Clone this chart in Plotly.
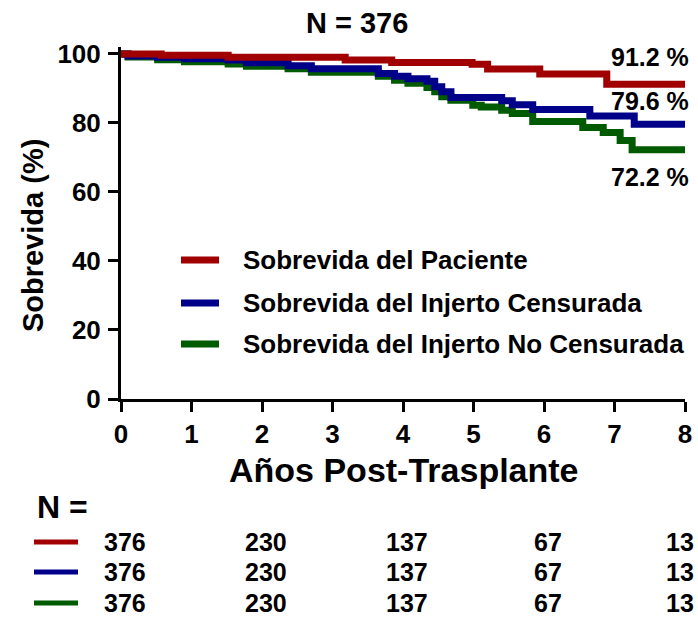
import plotly.graph_objects as go

# ---- data ----
pac_t = [0, 0.57, 1.52, 3.18, 3.84, 4.98, 5.2, 5.94, 6.89, 8.0]
pac_s = [100, 99.6, 99.0, 98.2, 97.5, 97.0, 95.6, 94.2, 91.2, 91.2]

cen_t = [0, 0.1, 0.52, 0.9, 1.52, 1.78, 2.37, 2.70, 3.65, 3.88, 4.07, 4.34, 4.45,
         4.55, 4.68, 5.40, 5.55, 5.84, 6.65, 7.28, 8.0]
cen_s = [100, 99.4, 99.0, 98.6, 98.2, 97.4, 96.6, 95.7, 94.3, 93.5, 92.8, 92.1, 90.5,
         89.0, 87.4, 86.4, 85.3, 83.9, 82.0, 79.6, 79.6]

nocen_t = [0, 0.1, 0.52, 0.9, 1.52, 1.78, 2.37, 2.70, 3.65, 3.88, 4.07, 4.34, 4.45,
           4.55, 4.68, 4.99, 5.11, 5.40, 5.55, 5.84, 6.55, 6.84, 7.08, 7.25, 8.0]
nocen_s = [100, 99.1, 98.3, 97.7, 97.1, 96.4, 95.7, 94.7, 93.5, 92.4, 91.5, 90.3, 89.0,
           87.6, 86.6, 85.1, 84.6, 83.7, 82.7, 80.4, 78.7, 77.2, 74.9, 72.2, 72.2]

series_names = ["Sobrevida del Paciente", "Sobrevida del Injerto Censurada",
                "Sobrevida del Injerto No Censurada"]
series_colors = ["#A00000", "#000088", "#005A00"]
final_labels = ["91.2 %", "79.6 %", "72.2 %"]

n_times = [0, 2, 4, 6, 8]
n_at_risk = [[376, 230, 137, 67, 13],
             [376, 230, 137, 67, 13],
             [376, 230, 137, 67, 13]]

# ---- layout geometry (pixels) ----
W, H = 698, 617
L, R, T, B = 121, 13, 47, 218
PW, PH = W - L - R, H - T - B
FONT = "Liberation Sans, Arial, sans-serif"


def px(x):
    return (x - L) / PW


def py(y):
    return (H - B - y) / PH


fig = go.Figure()
curves = [(pac_t, pac_s), (cen_t, cen_s), (nocen_t, nocen_s)]
for idx in [2, 1, 0]:
    t, s = curves[idx]
    fig.add_trace(go.Scatter(x=t, y=s, mode="lines", line_shape="hv",
                             line=dict(color=series_colors[idx], width=7),
                             name=series_names[idx], showlegend=False))

ann = []
shapes = []
# title
ann.append(dict(x=px(357), y=py(23), xref="paper", yref="paper", text="N = 376",
                showarrow=False, xanchor="center", yanchor="middle",
                font=dict(family=FONT, size=29, color="black", weight="bold")))
# axis titles
ann.append(dict(x=px(33), y=py(236), xref="paper", yref="paper", text="Sobrevida (%)",
                showarrow=False, textangle=-90, xanchor="center", yanchor="middle",
                font=dict(family=FONT, size=29, color="black", weight="bold")))
ann.append(dict(x=px(404), y=py(470), xref="paper", yref="paper", text="Años Post-Trasplante",
                showarrow=False, xanchor="center", yanchor="middle",
                font=dict(family=FONT, size=34, color="black", weight="bold")))
# end labels
for lab, yy in zip(final_labels, [57, 101, 177]):
    ann.append(dict(x=px(691), y=py(yy), xref="paper", yref="paper", text=lab,
                    showarrow=False, xanchor="right", yanchor="middle",
                    font=dict(family=FONT, size=25, color="black", weight="bold")))
# legend
for name, col, yy in zip(series_names, series_colors, [260, 303, 344]):
    shapes.append(dict(type="line", xref="paper", yref="paper", x0=px(181), x1=px(219),
                       y0=py(yy), y1=py(yy), line=dict(color=col, width=7)))
    ann.append(dict(x=px(241), y=py(yy), xref="paper", yref="paper", text=name,
                    showarrow=False, xanchor="left", yanchor="middle",
                    font=dict(family=FONT, size=26, color="black", weight="bold")))
# number at risk table
ann.append(dict(x=px(35), y=py(507), xref="paper", yref="paper", text="N =",
                showarrow=False, xanchor="left", yanchor="middle",
                font=dict(family=FONT, size=32, color="black", weight="bold")))
for row, col, yy in zip(n_at_risk, series_colors, [542, 572, 603]):
    shapes.append(dict(type="line", xref="paper", yref="paper", x0=px(34), x1=px(78),
                       y0=py(yy), y1=py(yy), line=dict(color=col, width=5)))
    for i, (tt, nn) in enumerate(zip(n_times, row)):
        shift = -5 if i == len(n_times) - 1 else 4
        ann.append(dict(x=tt, y=py(yy), xref="x", yref="paper", text=str(nn),
                        showarrow=False, xanchor="center", yanchor="middle", xshift=shift,
                        font=dict(family=FONT, size=25, color="black", weight="bold")))

fig.update_layout(
    width=W, height=H,
    margin=dict(l=L, r=R, t=T, b=B, autoexpand=False),
    paper_bgcolor="white", plot_bgcolor="white",
    showlegend=False,
    annotations=ann, shapes=shapes,
    xaxis=dict(range=[0, 8], tickvals=[0, 1, 2, 3, 4, 5, 6, 7, 8],
               showline=True, linecolor="black", linewidth=3,
               ticks="outside", ticklen=10, tickwidth=3, tickcolor="black",
               showgrid=False, zeroline=False, ticklabelstandoff=0,
               tickfont=dict(family=FONT, size=26, color="black", weight="bold")),
    yaxis=dict(range=[0, 102], tickvals=[0, 20, 40, 60, 80, 100],
               showline=True, linecolor="black", linewidth=3,
               ticks="outside", ticklen=10, tickwidth=3, tickcolor="black",
               showgrid=False, zeroline=False, ticklabelstandoff=2,
               tickfont=dict(family=FONT, size=26, color="black", weight="bold")),
)

fig.write_html("out.html", config={"displayModeBar": False})

# remove the default page margin so the figure sits at the window's top-left corner
with open("out.html", encoding="utf-8") as f:
    html = f.read()
html = html.replace("<head>", "<head><style>html,body{margin:0;padding:0;overflow:hidden;}</style>", 1)
with open("out.html", "w", encoding="utf-8") as f:
    f.write(html)
